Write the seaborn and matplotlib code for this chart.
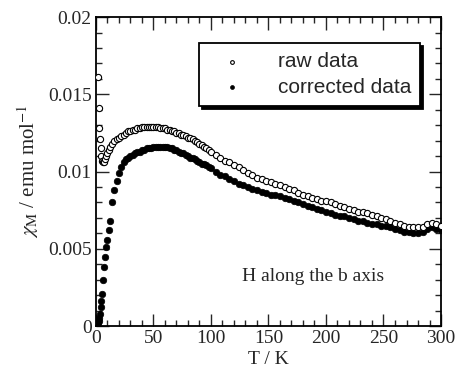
import matplotlib
matplotlib.use("Agg")
import matplotlib.pyplot as plt
import pandas as pd
import seaborn as sns
from matplotlib.ticker import MultipleLocator

# temperature points (K), shared by both series
temps = [
    2, 2.5, 3, 3.5, 4, 4.5, 5, 6, 7, 8, 9, 10, 11, 12,
    14, 16, 18, 20, 22, 24, 26, 28, 30, 32, 34, 36, 38, 40,
    42, 44, 46, 48, 50, 52, 54, 56, 58, 60, 62, 64, 66, 68, 70,
    72, 74, 76, 78, 80, 82, 84, 86, 88, 90, 92, 94, 96, 98, 100,
    104, 108, 112, 116, 120, 124, 128, 132, 136, 140, 144, 148,
    152, 156, 160, 164, 168, 172, 176, 180, 184, 188, 192, 196,
    200, 204, 208, 212, 216, 220, 224, 228, 232, 236, 240, 244,
    248, 252, 256, 260, 264, 268, 272, 276, 280, 284, 288, 292,
    296, 300,
]

chi_raw = [
    0.0161, 0.0141, 0.0128, 0.0121, 0.0115, 0.0110, 0.0107, 0.0106, 0.0106, 0.0108, 0.0110, 0.0112, 0.0114, 0.0116,
    0.0118, 0.0120, 0.0121, 0.0122, 0.0123, 0.0124, 0.0125, 0.0126, 0.0126, 0.0127, 0.0127, 0.0128, 0.0128, 0.0129,
    0.0129, 0.0129, 0.0129, 0.0129, 0.0129, 0.0129, 0.0129, 0.0128, 0.0128, 0.0128, 0.0127, 0.0127, 0.0126, 0.0126, 0.0125,
    0.0125, 0.0124, 0.0124, 0.0123, 0.0122, 0.0122, 0.0121, 0.0120, 0.0119, 0.0118, 0.0117, 0.0116, 0.0115, 0.0114, 0.0113,
    0.0111, 0.0109, 0.0107, 0.0106, 0.0104, 0.0103, 0.0101, 0.0099, 0.0098, 0.0096, 0.0095, 0.0094,
    0.0093, 0.0092, 0.0091, 0.0090, 0.0089, 0.0088, 0.0086, 0.0085, 0.0084, 0.0083, 0.0082, 0.0081,
    0.0081, 0.0080, 0.0079, 0.0078, 0.0077, 0.0076, 0.0075, 0.0074, 0.0074, 0.0073, 0.0072, 0.0071,
    0.0070, 0.0069, 0.0068, 0.0067, 0.0066, 0.0065, 0.0064, 0.0064, 0.0064, 0.0064, 0.0066, 0.0067,
    0.0066, 0.0065,
]

chi_corr = [
    0.0002, 0.0003, 0.0005, 0.0008, 0.0012, 0.0016, 0.0021, 0.0030, 0.0038, 0.0045, 0.0051, 0.0056, 0.0062, 0.0068,
    0.0080, 0.0088, 0.0094, 0.0099, 0.0103, 0.0106, 0.0108, 0.0109, 0.0110, 0.0111, 0.0112, 0.0113, 0.0113, 0.0114,
    0.0114, 0.0115, 0.0115, 0.0115, 0.0116, 0.0116, 0.0116, 0.0116, 0.0116, 0.0116, 0.0116, 0.0115, 0.0115, 0.0114, 0.0114,
    0.0113, 0.0112, 0.0112, 0.0111, 0.0110, 0.0109, 0.0109, 0.0108, 0.0107, 0.0106, 0.0105, 0.0105, 0.0104, 0.0103, 0.0102,
    0.0100, 0.0098, 0.0097, 0.0095, 0.0094, 0.0092, 0.0091, 0.0090, 0.0089, 0.0088, 0.0087, 0.0086,
    0.0085, 0.0085, 0.0084, 0.0083, 0.0082, 0.0081, 0.0080, 0.0079, 0.0078, 0.0077, 0.0076, 0.0075,
    0.0074, 0.0073, 0.0072, 0.0071, 0.0071, 0.0070, 0.0069, 0.0068, 0.0068, 0.0067, 0.0066, 0.0066,
    0.0065, 0.0065, 0.0064, 0.0063, 0.0062, 0.0061, 0.0061, 0.0060, 0.0060, 0.0061, 0.0063, 0.0064,
    0.0063, 0.0062,
]

df = pd.DataFrame({"T": temps, "raw": chi_raw, "corrected": chi_corr})

sns.set_theme(style="ticks")
plt.rcParams["font.family"] = ["Liberation Serif", "DejaVu Serif"]
plt.rcParams["mathtext.fontset"] = "stix"
plt.rcParams["xtick.direction"] = "in"
plt.rcParams["ytick.direction"] = "in"

fig = plt.figure(figsize=(4.57, 3.73), dpi=100)
ax = fig.add_axes([0.210, 0.126, 0.755, 0.828])

# corrected first so the open circles sit on top
sns.scatterplot(data=df, x="T", y="corrected", ax=ax, s=22, color="black",
                edgecolor="black", linewidth=0.5, label="corrected data", zorder=2)
sns.scatterplot(data=df, x="T", y="raw", ax=ax, s=20, facecolor="white",
                edgecolor="black", linewidth=0.8, label="raw data", zorder=3)

ax.set_xlim(0, 300)
ax.set_ylim(0, 0.02)
ax.xaxis.set_major_locator(MultipleLocator(50))
ax.xaxis.set_minor_locator(MultipleLocator(10))
ax.yaxis.set_minor_locator(MultipleLocator(0.001))
ax.set_yticks([0, 0.005, 0.01, 0.015, 0.02])
ax.set_yticklabels(["0", "0.005", "0.01", "0.015", "0.02"])
ax.tick_params(which="major", length=9, width=1, top=True, right=True, labelsize=14, pad=3)
ax.tick_params(which="minor", length=4.5, width=1, top=True, right=True)
for sp in ax.spines.values():
    sp.set_linewidth(1.3)
    sp.set_color("black")

ax.set_xlabel("T / K", fontsize=14, labelpad=3)
ax.set_ylabel(r"$\chi_{\rm M}$ / emu mol$^{-1}$", fontsize=15, labelpad=5)

ax.text(0.423, 0.159, "H along the b axis", transform=ax.transAxes,
        fontsize=14, va="center", ha="left")

handles, labels = ax.get_legend_handles_labels()
leg = ax.legend(handles[::-1], labels[::-1], loc="upper left",
                bbox_to_anchor=(0.30, 0.916), borderaxespad=0,
                frameon=True, fancybox=False, shadow={"color": "black", "alpha": 1},
                prop={"family": "Liberation Sans", "size": 15},
                handlelength=2.2, handletextpad=1.1, labelspacing=0.3,
                borderpad=0.45, markerscale=0.6)
leg.get_frame().set_edgecolor("black")
leg.get_frame().set_linewidth(1.3)
leg.get_frame().set_alpha(1)

fig.savefig("out.png", dpi=100)
